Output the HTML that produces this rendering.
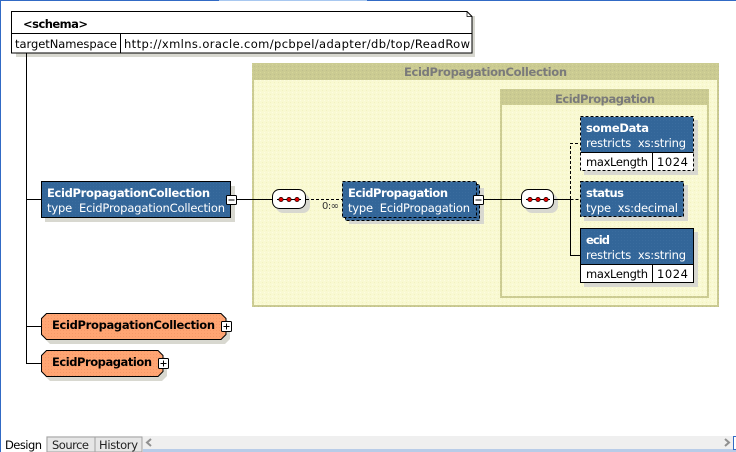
<!DOCTYPE html>
<html><head><meta charset="utf-8"><style>
html,body{margin:0;padding:0;background:#fff;width:736px;height:452px;overflow:hidden}
svg{display:block}
text{font-family:"DejaVu Sans","Liberation Sans",sans-serif;font-size:11.5px;white-space:pre}
.b{font-weight:bold}
.w{fill:#fff}
.k{fill:#000}
.s{fill:#d8d8d0}
.l{stroke:#000;stroke-width:1;fill:none}
.d{stroke:#000;stroke-width:1;fill:none;stroke-dasharray:3 2}
</style></head><body>
<svg width="736" height="452" viewBox="0 0 736 452" xmlns="http://www.w3.org/2000/svg">
<defs>
<pattern id="y" width="4" height="4" patternUnits="userSpaceOnUse"><rect width="4" height="4" fill="#f9f9d2"/><rect width="1" height="1" fill="#fdfde2"/><rect x="2" y="2" width="1" height="1" fill="#f2f2c0"/></pattern>
<pattern id="h" width="4" height="4" patternUnits="userSpaceOnUse"><rect width="4" height="4" fill="#cbcb92"/><rect width="1" height="1" fill="#d6d69a"/><rect x="2" y="2" width="1" height="1" fill="#bfbf8c"/></pattern>
<pattern id="u" width="3" height="3" patternUnits="userSpaceOnUse"><rect width="3" height="3" fill="#336699"/><rect width="1" height="1" fill="#3a6c9e"/></pattern>
<pattern id="o" width="3" height="3" patternUnits="userSpaceOnUse"><rect width="3" height="3" fill="#ffa573"/><rect width="1" height="1" fill="#f59868"/></pattern>
</defs>
<rect x="0" y="0" width="736" height="1" fill="#316ac5"/>
<rect x="219" y="0" width="148" height="1" fill="#a8c8f0"/>
<rect x="0" y="0" width="1" height="452" fill="#316ac5"/>

<!-- groups -->
<rect x="252" y="63" width="467" height="244" fill="url(#h)"/>
<rect x="254" y="80" width="463" height="225" fill="url(#y)"/>
<text x="404" y="76" class="b" fill="#7a7a7a" textLength="163">EcidPropagationCollection</text>
<rect x="500" y="89" width="209" height="209" fill="url(#h)"/>
<rect x="502" y="105" width="205" height="191" fill="url(#y)"/>
<text x="555" y="103" class="b" fill="#7a7a7a" textLength="100">EcidPropagation</text>

<!-- schema -->
<path d="M16 53h456V16h3v41H16z" class="s"/>
<path d="M11.5 11.5H467l5 5V53H11.5z" fill="#fff" stroke="#000"/>
<path d="M467 11.5v5h5" fill="none" stroke="#000" stroke-width=".7"/>
<path d="M11.5 33.5H472M120.5 33.5V53" class="l"/>
<text x="23" y="28" class="b k" textLength="65">&lt;schema&gt;</text>
<text x="15" y="48" class="k" textLength="102">targetNamespace</text>
<text x="124" y="48" class="k" textLength="346">http://xmlns.oracle.com/pcbpel/adapter/db/top/ReadRow</text>

<!-- trunk -->
<path d="M26.5 53V363.5H41.5M26.5 199.5H41.5M26.5 326.5H41.5" class="l"/>

<!-- EcidPropagationCollection element -->
<rect x="45" y="186" width="190" height="36" class="s"/>
<rect x="41.500" y="181.500" width="189" height="36" fill="url(#u)" stroke="#000"/>
<text x="47" y="197" class="b w" textLength="163">EcidPropagationCollection</text>
<text x="47" y="212" class="w" textLength="178">type  EcidPropagationCollection</text>
<rect x="226.500" y="195.500" width="10" height="9" fill="#fff" stroke="#000" rx="1"/>
<path d="M228.500 200H234.500" class="l"/>
<path d="M236.500 199.500H272" class="l"/>

<!-- sequence 1 -->
<rect x="276" y="194" width="34" height="19" rx="7" class="s"/>
<rect x="272.500" y="189.500" width="33" height="19" rx="7" fill="#fff" stroke="#000"/>
<path d="M277 199.500H301" class="l"/>
<circle cx="281" cy="199.500" r="2.200" fill="#e00000" stroke="#000" stroke-width=".6"/>
<circle cx="289" cy="199.500" r="2.200" fill="#e00000" stroke="#000" stroke-width=".6"/>
<circle cx="297" cy="199.500" r="2.200" fill="#e00000" stroke="#000" stroke-width=".6"/>
<path d="M306 199.500H342" class="d"/>
<text x="322" y="209" style="font-size:10px" fill="#333" textLength="17">0:∞</text>

<!-- EcidPropagation element -->
<rect x="349" y="188" width="135" height="36" class="s"/>
<rect x="345.500" y="184.500" width="134" height="36" fill="#336699" stroke="#000" stroke-dasharray="3 2"/>
<rect x="342.500" y="181.500" width="134" height="36" fill="url(#u)" stroke="#000" stroke-dasharray="3 2"/>
<text x="348" y="197" class="b w" textLength="100">EcidPropagation</text>
<text x="348" y="212" class="w" textLength="122">type  EcidPropagation</text>
<rect x="473.500" y="195.500" width="10" height="9" fill="#fff" stroke="#000" rx="1"/>
<path d="M475.500 200H481.500" class="l"/>
<path d="M483.500 199.500H521" class="l"/>

<!-- sequence 2 -->
<rect x="525" y="194" width="33" height="19" rx="7" class="s"/>
<rect x="521.500" y="189.500" width="32" height="19" rx="7" fill="#fff" stroke="#000"/>
<path d="M526 199.500H550" class="l"/>
<circle cx="530" cy="199.500" r="2.200" fill="#e00000" stroke="#000" stroke-width=".6"/>
<circle cx="538" cy="199.500" r="2.200" fill="#e00000" stroke="#000" stroke-width=".6"/>
<circle cx="546" cy="199.500" r="2.200" fill="#e00000" stroke="#000" stroke-width=".6"/>
<path d="M554 199.500H570.500V255.500H580.500" class="l"/>
<path d="M570.500 199V143.500H580.500M570.500 199.500H580.500" class="d"/>

<!-- someData -->
<rect x="584" y="120" width="114" height="55" class="s"/>
<rect x="580.500" y="116.500" width="113" height="54" fill="#fff" stroke="#000" stroke-dasharray="3 2"/>
<rect x="581" y="117" width="112" height="35" fill="url(#u)"/>
<path d="M580.500 152.500H693.500M652.500 152.500V170" class="l"/>
<path d="M580.500 116.500H693.500" class="d"/>
<text x="586" y="132" class="b w" textLength="63">someData</text>
<text x="586" y="147" class="w" textLength="100">restricts  xs:string</text>
<text x="586" y="166" class="k" textLength="62">maxLength</text>
<text x="657" y="166" class="k" textLength="31">1024</text>

<!-- status -->
<rect x="584" y="185" width="104" height="36" class="s"/>
<rect x="580.500" y="181.500" width="103" height="35" fill="url(#u)" stroke="#000" stroke-dasharray="3 2"/>
<text x="586" y="197" class="b w" textLength="38">status</text>
<text x="586" y="212" class="w" textLength="92">type  xs:decimal</text>

<!-- ecid -->
<rect x="584" y="232" width="114" height="55" class="s"/>
<rect x="580.500" y="228.500" width="113" height="54" fill="#fff" stroke="#000"/>
<rect x="581" y="229" width="112" height="35" fill="url(#u)"/>
<path d="M580.500 264.500H693.500M652.500 264.500V282" class="l"/>
<text x="586" y="244" class="b w" textLength="24">ecid</text>
<text x="586" y="259" class="w" textLength="100">restricts  xs:string</text>
<text x="586" y="278" class="k" textLength="62">maxLength</text>
<text x="657" y="278" class="k" textLength="31">1024</text>

<!-- global complex types -->
<path d="M50 318H225l5 5V339l-5 5H50l-5-5V323z" class="s"/>
<path d="M46.500 313.500H221l5 5V334.500l-5 5H46.500l-5-5V318.500z" fill="url(#o)" stroke="#000"/>
<text x="52" y="329" class="b k" textLength="163">EcidPropagationCollection</text>
<rect x="221.500" y="321.500" width="10" height="10" fill="#fff" stroke="#000" rx="1"/>
<path d="M223.500 326.500H229.500M226.500 323.500V329.500" class="l"/>

<path d="M50 355H162l5 5V376l-5 5H50l-5-5V360z" class="s"/>
<path d="M46.500 350.500H158l5 5V371.500l-5 5H46.500l-5-5V355.500z" fill="url(#o)" stroke="#000"/>
<text x="52" y="366" class="b k" textLength="100">EcidPropagation</text>
<rect x="158.500" y="358.500" width="10" height="10" fill="#fff" stroke="#000" rx="1"/>
<path d="M160.500 363.500H166.500M163.500 360.500V366.500" class="l"/>

<!-- bottom tabs -->
<rect x="1" y="436" width="735" height="16" fill="#f2f2f2"/>
<rect x="1" y="436" width="45" height="16" fill="#fff"/>
<rect x="47" y="437" width="48" height="15" fill="#e6e6e6" stroke="#a0a0a0" stroke-width="1"/>
<rect x="95" y="437" width="47" height="15" fill="#e6e6e6" stroke="#a0a0a0" stroke-width="1"/>
<text x="5" y="449" class="k" textLength="37">Design</text>
<text x="52" y="449" fill="#222" textLength="37">Source</text>
<text x="99" y="449" fill="#222" textLength="39">History</text>
<rect x="143" y="436" width="590" height="13" fill="#efefef"/>
<rect x="143" y="449" width="593" height="3" fill="#b8cce8"/>
<path d="M151 439l-4 3.500 4 3.500" fill="none" stroke="#909090" stroke-width="2"/>
<path d="M725 439l4 3.500-4 3.500" fill="none" stroke="#909090" stroke-width="2"/>
<rect x="733.500" y="436.500" width="3" height="13" fill="#fff" stroke="#316ac5"/>
</svg>
</body></html>
